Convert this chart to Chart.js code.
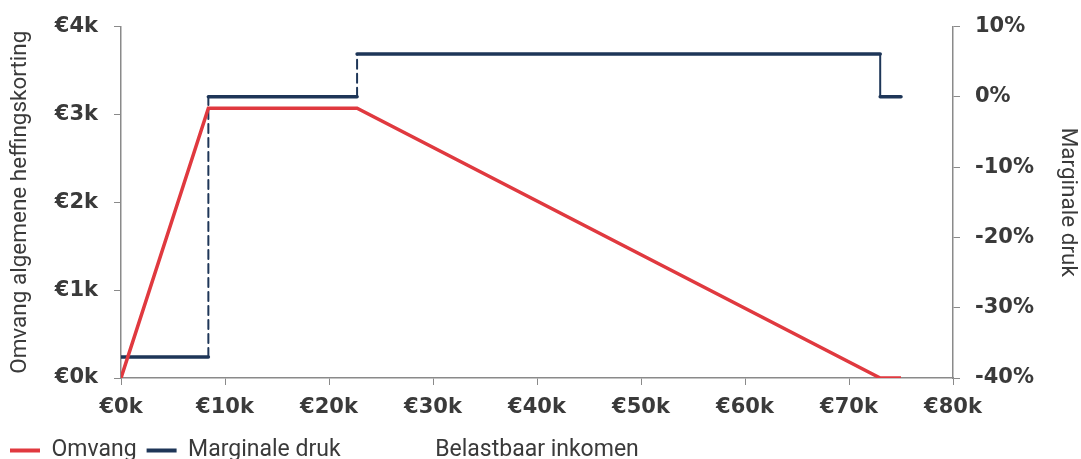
<!DOCTYPE html>
<html>
<head>
<meta charset="utf-8">
<script src="https://cdn.jsdelivr.net/npm/chart.js@4"></script>
<style>
html,body{margin:0;padding:0;background:#fff;overflow:hidden;}
#wrap{width:1081px;height:459px;position:relative;}
</style>
</head>
<body>
<div id="wrap"><canvas id="c"></canvas></div>
<script>
// Data (x in thousand euro)
const omvangX = [0, 8.4, 22.7, 73, 75];
const omvangY = [0, 3.07, 3.07, 0, 0];          // € thousand
const drukX = [0, 8.4, 8.4, 22.7, 22.7, 73, 73, 75];
const drukY = [-37, -37, 0, 0, 6.1, 6.1, 0, 0]; // percent
const xTicks = [0, 10, 20, 30, 40, 50, 60, 70, 80];
const leftTicks = [0, 1, 2, 3, 4];
const rightTicks = [-40, -30, -20, -10, 0, 10];
const seriesNames = ['Omvang', 'Marginale druk'];
const xTitle = 'Belastbaar inkomen';
const leftTitle = 'Omvang algemene heffingskorting';
const rightTitle = 'Marginale druk';

const RED = '#e0393f';
const NAVY = '#1e3658';
const AXIS = '#8a8a8a';
const TXT = '#3a3a3a';

const tickFont = {family: 'DejaVu Sans', size: 21, weight: 'bold', lineHeight: 1.0};
const textFont = {family: 'Roboto', size: 23};
const titleFont = {family: 'Roboto', size: 22.5};

const xTitlePlugin = {
  id: 'xTitle',
  afterDraw(chart) {
    const ctx = chart.ctx;
    const ca = chart.chartArea;
    const lg = chart.legend;
    ctx.save();
    ctx.font = `${textFont.size}px ${textFont.family}`;
    ctx.fillStyle = TXT;
    ctx.textAlign = 'center';
    ctx.textBaseline = 'middle';
    let y = 448;
    if (lg && lg.legendHitBoxes && lg.legendHitBoxes.length) {
      const hb = lg.legendHitBoxes[0];
      y = hb.top + hb.height / 2;
    }
    ctx.fillText(xTitle, (ca.left + ca.right) / 2, y);
    ctx.restore();
  }
};

new Chart(document.getElementById('c'), {
  type: 'line',
  data: {
    datasets: [
      {
        label: seriesNames[0],
        data: omvangX.map((x, i) => ({x, y: omvangY[i]})),
        borderColor: RED,
        backgroundColor: RED,
        borderWidth: 3.5,
        pointRadius: 0,
        tension: 0,
        yAxisID: 'y'
      },
      {
        label: seriesNames[1],
        data: drukX.map((x, i) => ({x, y: drukY[i]})),
        borderColor: NAVY,
        backgroundColor: NAVY,
        borderWidth: 3.5,
        borderCapStyle: 'round',
        pointRadius: 0,
        tension: 0,
        yAxisID: 'y1',
        segment: {
          borderDash: c => c.p0.parsed.x === c.p1.parsed.x ? [9, 5] : undefined,
          borderWidth: c => c.p0.parsed.x === c.p1.parsed.x ? 2 : undefined
        }
      }
    ]
  },
  options: {
    responsive: true,
    maintainAspectRatio: false,
    animation: false,
    layout: {padding: {top: 13, left: 0, right: 0, bottom: -13}},
    plugins: {
      legend: {
        position: 'bottom',
        align: 'start',
        labels: {
          font: textFont,
          color: TXT,
          boxWidth: 30,
          boxHeight: 4,
          padding: 10,
          generateLabels(chart) {
            return chart.data.datasets.map((d, i) => ({
              text: d.label, fillStyle: d.borderColor, strokeStyle: d.borderColor,
              lineWidth: 0, hidden: false, datasetIndex: i, fontColor: TXT
            }));
          }
        }
      },
      tooltip: {enabled: false}
    },
    scales: {
      x: {
        type: 'linear',
        min: 0, max: 80,
        afterBuildTicks: s => { s.ticks = xTicks.map(v => ({value: v})); },
        ticks: {font: tickFont, color: TXT, padding: 12, maxRotation: 0,
          callback: v => '€' + v + 'k'},
        grid: {display: true, drawOnChartArea: false, drawTicks: true, tickLength: 7, color: AXIS},
        border: {display: true, color: AXIS, width: 1.5},
        afterFit: s => { s.height = 51; }
      },
      y: {
        position: 'left',
        min: 0, max: 4,
        afterBuildTicks: s => { s.ticks = leftTicks.map(v => ({value: v})); },
        ticks: {font: tickFont, color: TXT, padding: 16,
          callback: v => '€' + v + 'k'},
        grid: {drawOnChartArea: false, tickLength: 7, color: AXIS},
        border: {display: true, color: AXIS, width: 1.5},
        title: {display: true, text: leftTitle, font: titleFont, color: TXT, padding: {top: 7, bottom: 0}},
        afterFit: s => { s.width = 121; }
      },
      y1: {
        position: 'right',
        min: -40, max: 10,
        afterBuildTicks: s => { s.ticks = rightTicks.map(v => ({value: v})); },
        ticks: {font: tickFont, color: TXT, padding: 15,
          callback: v => v + '%'},
        grid: {drawOnChartArea: false, tickLength: 7, color: AXIS},
        border: {display: true, color: AXIS, width: 1.5},
        title: {display: true, text: rightTitle, font: titleFont, color: TXT, padding: {top: 0, bottom: 0}},
        afterFit: s => { s.width = 128; }
      }
    }
  },
  plugins: [xTitlePlugin]
});
</script>
</body>
</html>
